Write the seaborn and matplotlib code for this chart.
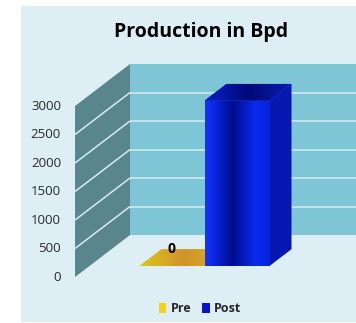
import numpy as np
import matplotlib
matplotlib.use("Agg")
import matplotlib.pyplot as plt
from matplotlib.patches import Polygon, Rectangle, Patch
from matplotlib.colors import LinearSegmentedColormap
import seaborn as sns

# ---- data ----
categories = ["Pre", "Post"]
values = [0, 2900]
bar_colors = ["#E0C41E", "#0A22E8"]
y_ticks = [0, 500, 1000, 1500, 2000, 2500, 3000]
title = "Production in Bpd"

# ---- style ----
sns.set_theme(style="white")
plt.rcParams["font.family"] = ["Open Sans", "DejaVu Sans"]

W, H = 356, 323
fig = plt.figure(figsize=(W / 100, H / 100), dpi=100, facecolor="white")
fig.add_artist(Rectangle((21 / W, 1 / H), 335 / W, 316 / H, transform=fig.transFigure,
                         facecolor="#DDEEF4", edgecolor="none", zorder=-10))
ax = fig.add_axes([0, 0, 1, 1])
ax.set_facecolor("none")

# oblique projection parameters (data units)
PX_X = 65.0          # px per category unit
PX_Y = 171.0 / 3000  # px per value unit
DX = 55 / PX_X       # x shift for a full depth
DY = 42 / PX_Y       # y shift for a full depth
Z_FRONT, Z_BACK, Z_BAR = -0.262, 0.738, 0.40
XL, XR = -1.27, 3.5
YMAX = y_ticks[-1]

def proj(x, y, z):
    return (x + z * DX, y + z * DY)

# walls
back = [proj(XL, 0, Z_BACK), proj(XR, 0, Z_BACK), proj(XR, YMAX, Z_BACK), proj(XL, YMAX, Z_BACK)]
left = [proj(XL, 0, Z_FRONT), proj(XL, 0, Z_BACK), proj(XL, YMAX, Z_BACK), proj(XL, YMAX, Z_FRONT)]
ax.add_patch(Polygon(back, closed=True, facecolor="#7EC6D6", edgecolor="none", zorder=0))
ax.add_patch(Polygon(left, closed=True, facecolor="#58868C", edgecolor="none", zorder=0))
for v in y_ticks[1:-1]:
    p0, p1 = proj(XL, v, Z_BACK), proj(XR, v, Z_BACK)
    ax.plot([p0[0], p1[0]], [p0[1], p1[1]], color="#D4ECF2", lw=1.1, zorder=0.5, solid_capstyle="butt")
    q0, q1 = proj(XL, v, Z_FRONT), proj(XL, v, Z_BACK)
    ax.plot([q0[0], q1[0]], [q0[1], q1[1]], color="#D4ECF2", lw=1.1, zorder=0.5, solid_capstyle="butt")
for v in y_ticks:
    px, py = proj(XL, v, Z_FRONT)
    ax.annotate(str(v), (px, py), xytext=(-14, 0), textcoords="offset pixels",
                ha="right", va="center", fontsize=9.5, color="#2A2A2A")

# bars (front faces)
sns.barplot(x=categories, y=values, hue=categories, palette=bar_colors, width=1.0,
            saturation=1, legend=False, ax=ax, zorder=3)

front_cmaps = [
    LinearSegmentedColormap.from_list("y", ["#E2CC1E", "#D49A24", "#DDB820"]),
    LinearSegmentedColormap.from_list("b", [(0, "#1434F6"), (0.12, "#0C2AEA"), (0.42, "#000C8C"),
                                             (0.78, "#0A2AF2"), (1, "#0822D8")]),
]
top_cmaps = [
    LinearSegmentedColormap.from_list("yt", ["#DCC81C", "#D2922A", "#D8B622"]),
    LinearSegmentedColormap.from_list("bt", ["#0A22C8", "#000A78", "#0A1EB0"]),
]
side_colors = ["#B89018", "#0718B0"]
grad = np.linspace(0, 1, 256).reshape(1, -1)

bdx, bdy = Z_BAR * DX, Z_BAR * DY
patches = list(ax.patches)[2:]
for i, p in enumerate(patches):
    x0, w, h = p.get_x(), p.get_width(), p.get_height()
    p.set_zorder(3)
    p.set_edgecolor("none")
    if h > 0:
        im = ax.imshow(grad, cmap=front_cmaps[i], extent=[x0, x0 + w, 0, h], aspect="auto", zorder=3.1)
        im.set_clip_path(p)
    top = Polygon([(x0, h), (x0 + w, h), (x0 + w + bdx, h + bdy), (x0 + bdx, h + bdy)],
                  closed=True, facecolor=bar_colors[i], edgecolor="none", zorder=2)
    ax.add_patch(top)
    im = ax.imshow(grad, cmap=top_cmaps[i], extent=[x0, x0 + w + bdx, h, h + bdy], aspect="auto", zorder=2.1)
    im.set_clip_path(top)
    if h > 0:
        side = Polygon([(x0 + w, 0), (x0 + w, h), (x0 + w + bdx, h + bdy), (x0 + w + bdx, bdy)],
                       closed=True, facecolor=side_colors[i], edgecolor="none", zorder=2)
        ax.add_patch(side)
    if h == 0:
        ax.text(x0 + w / 2, h + bdy, "0", ha="center", va="center",
                fontsize=10, fontweight="bold", color="black", zorder=4)

ax.set_xlim(-172 / PX_X, (W - 172) / PX_X)
ax.set_ylim(-(H - 266) / PX_Y, 266 / PX_Y)
ax.set_axis_off()

fig.text(201.5 / W, 1 - 36.7 / H, title, ha="center", va="baseline",
         fontsize=14, fontweight="bold", color="black")

handles = [Patch(facecolor=c, edgecolor="none") for c in ["#F2D21E", "#0A14D0"]]
ax.legend(handles, categories, loc="center", bbox_to_anchor=(200 / W, 1 - 309 / H),
          bbox_transform=fig.transFigure, ncol=2, frameon=False, handlelength=0.6,
          handleheight=0.8, handletextpad=0.35, columnspacing=0.9,
          prop={"weight": "bold", "size": 9})

fig.savefig("out.png", dpi=100, facecolor="white")
